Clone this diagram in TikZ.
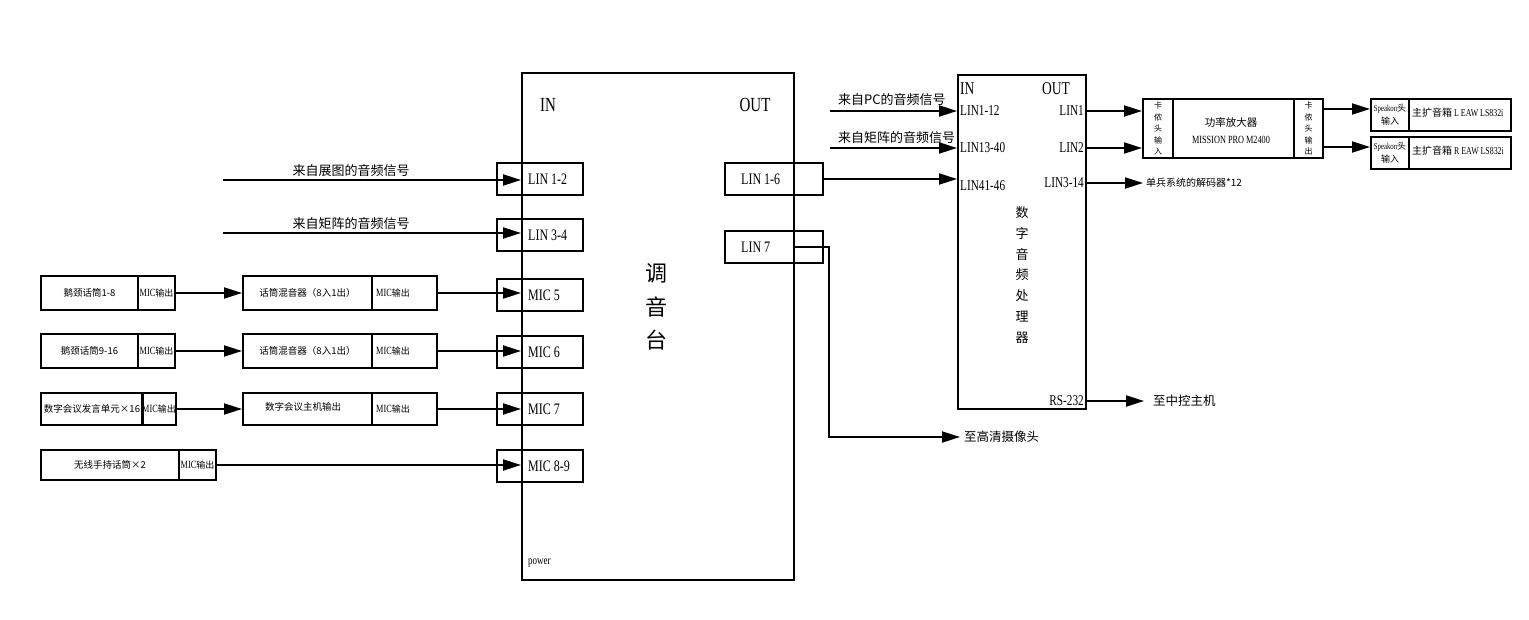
\documentclass[tikz,border=0pt]{standalone}
\usepackage{fontspec}
\setmainfont[FakeStretch=0.75]{Liberation Serif}
\newfontfamily\cjk{Noto Sans CJK SC}
\newcommand\zh[1]{{\cjk #1}}
\newcommand\micout{{\fontsize{11}{11}\selectfont MIC}{\cjk\fontsize{9}{9}\selectfont 输出}}
\usetikzlibrary{arrows.meta}
\begin{document}
\begin{tikzpicture}[x=1pt,y=-1pt,
  bx/.style={draw, line width=2pt, inner sep=0pt},
  arr/.style={line width=2pt, -{Triangle[length=18pt,width=11pt]}},
  t/.style={inner sep=0pt},
  port/.style={t, anchor=west, font=\fontsize{16}{16}\selectfont},
  zhs/.style={font=\cjk\fontsize{#1}{#1}\selectfont},
  las/.style={font=\fontsize{#1}{#1}\selectfont},
]
\useasboundingbox (0,0) rectangle (1529,620);

% ---------- mixer ----------
\node[bx, minimum width=272, minimum height=507] (mixer) at (658,326.5) {};
\node[t, las=20] (min) at (548,105) {IN};
\node[t, las=20] (mout) at (755,105) {OUT};
\node[t, anchor=west, las=12] (pw) at (528,563) {power};
\node[t, align=center, font=\cjk\fontsize{22}{33.5}\selectfont] (mt) at (656,307) {调\\音\\台};

\foreach \n/\y/\txt in {p1/179/LIN 1-2, p2/235/LIN 3-4, p3/295/MIC 5, p4/352/MIC 6, p5/409/MIC 7, p6/466/MIC 8-9} {
  \node[bx, minimum width=86, minimum height=32] (\n) at (540,\y) {};
  \node[port] (\n t) at (528,\y) {\txt};
}
\node[bx, minimum width=98, minimum height=32] (o1) at (774,179) {};
\node[port] (o1t) at (741,179) {LIN 1-6};
\node[bx, minimum width=98, minimum height=32] (o2) at (774,247) {};
\node[port] (o2t) at (741,247) {LIN 7};

% ---------- top inputs ----------
\coordinate (s1) at (223,180);
\coordinate (s2) at (223,233);
\draw[arr] (s1) -- (s1 -| mixer.west);
\draw[arr] (s2) -- (s2 -| mixer.west);
\node[t, zhs=13] (s1t) at (351,171) {来自展图的音频信号};
\node[t, zhs=13] (s2t) at (351,224) {来自矩阵的音频信号};

% ---------- left rows ----------
\node[bx, minimum width=97, minimum height=34, zhs=9.5] (a1) at (89.5,293) {鹅颈话筒1-8};
\node[bx, minimum width=37, minimum height=34] (a1r) at (156.5,293) {\micout};
\node[bx, minimum width=129, minimum height=34, zhs=9.5] (b1) at (307.5,293) {话筒混音器（8入1出）};
\node[bx, minimum width=65, minimum height=34] (b1r) at (404.5,293) {};
\node[t, anchor=west] (b1rt) at (376,293) {\micout};

\node[bx, minimum width=97, minimum height=34, zhs=9.5] (a2) at (89.5,351) {鹅颈话筒9-16};
\node[bx, minimum width=37, minimum height=34] (a2r) at (156.5,351) {\micout};
\node[bx, minimum width=129, minimum height=34, zhs=9.5] (b2) at (307.5,351) {话筒混音器（8入1出）};
\node[bx, minimum width=65, minimum height=34] (b2r) at (404.5,351) {};
\node[t, anchor=west] (b2rt) at (376,351) {\micout};

\node[bx, minimum width=102, minimum height=32, zhs=9.5] (a3) at (92,409) {数字会议发言单元×16};
\node[bx, minimum width=32, minimum height=32] (a3r) at (159,409) {\micout};
\node[bx, minimum width=129, minimum height=32] (b3) at (307.5,409) {};
\node[t, zhs=9.5] (b3t) at (303,406.5) {数字会议主机输出};
\node[bx, minimum width=65, minimum height=32] (b3r) at (404.5,409) {};
\node[t, anchor=west] (b3rt) at (376,409) {\micout};

\node[bx, minimum width=138, minimum height=30, zhs=9.5] (a4) at (110,465) {无线手持话筒×2};
\node[bx, minimum width=37, minimum height=30] (a4r) at (197.5,465) {\micout};

\draw[arr] (a1r.east) -- (b1.west);
\draw[arr] (a2r.east) -- (b2.west);
\draw[arr] (a3r.east) -- (b3.west);
\draw[arr] (b1r.east) -- (b1r.east -| mixer.west);
\draw[arr] (b2r.east) -- (b2r.east -| mixer.west);
\draw[arr] (b3r.east) -- (b3r.east -| mixer.west);
\draw[arr] (a4r.east) -- (a4r.east -| mixer.west);

% ---------- DSP ----------
\node[bx, minimum width=128, minimum height=334] (dsp) at (1022,242) {};
\node[t, anchor=west, las=18] (din) at (960,89) {IN};
\node[t, anchor=west, las=18] (dout) at (1042,89) {OUT};
\node[t, anchor=west, las=15] (l1) at (960,111) {LIN1-12};
\node[t, anchor=west, las=15] (l2) at (960,148) {LIN13-40};
\node[t, anchor=west, las=15] (l3) at (960,186) {LIN41-46};
\node[t, anchor=east, las=15] (r1) at (1084,111) {LIN1};
\node[t, anchor=east, las=15] (r2) at (1084,148) {LIN2};
\node[t, anchor=east, las=15] (r3) at (1084,183) {LIN3-14};
\node[t, anchor=east, las=15] (rs) at (1084,401) {RS-232};
\node[t, align=center, font=\cjk\fontsize{13}{20.7}\selectfont] (dt) at (1022,275) {数\\字\\音\\频\\处\\理\\器};

\coordinate (d1) at (830,111);
\coordinate (d2) at (830,148);
\draw[arr] (d1) -- (d1 -| dsp.west);
\draw[arr] (d2) -- (d2 -| dsp.west);
\node[t, anchor=west, zhs=13] (d1t) at (838,100) {来自PC的音频信号};
\node[t, anchor=west, zhs=13] (d2t) at (838,138) {来自矩阵的音频信号};

\draw[arr] (o1.east) -- (o1.east -| dsp.west);

\coordinate (k) at (829,437);
\node[t, anchor=west, zhs=12.5] (cam) at (964,437) {至高清摄像头};
\draw[arr] (o2.center -| mixer.east) -- (o2.center -| k) -- (k) -- ([xshift=-4pt]cam.west);

\node[t, anchor=west, zhs=10] (dec) at (1146,183) {单兵系统的解码器*12};
\draw[arr] (dsp.east |- r3) -- ([xshift=-3pt]dec.west);
\node[t, anchor=west, zhs=12.5] (ctrl) at (1153,401) {至中控主机};
\draw[arr] (dsp.east |- rs) -- ([xshift=-9pt]ctrl.west);

% ---------- amplifier ----------
\node[bx, minimum width=30, minimum height=59, align=center, font=\cjk\fontsize{8}{11.5}\selectfont] (ampL) at (1158,128.5) {卡\\侬\\头\\输\\入};
\node[bx, minimum width=121, minimum height=59] (ampM) at (1233.5,128.5) {};
\node[t, zhs=10.5] (ampt1) at (1231,122) {功率放大器};
\node[t, las=11] (ampt2) at (1231,140) {MISSION PRO M2400};
\node[bx, minimum width=29, minimum height=59, align=center, font=\cjk\fontsize{8}{11.5}\selectfont] (ampR) at (1308.5,128.5) {卡\\侬\\头\\输\\出};

\draw[arr] (dsp.east |- r1) -- (ampL.west |- r1);
\draw[arr] (dsp.east |- r2) -- (ampL.west |- r2);

% ---------- speakers ----------
\node[bx, minimum width=38, minimum height=32, align=center, font=\fontsize{9}{13}\selectfont] (sp1l) at (1390,115) {Speakon\zh{头}\\\zh{输入}};
\node[bx, minimum width=102, minimum height=32] (sp1r) at (1460,115) {};
\node[t, anchor=west, las=10.5] (sp1t) at (1412,113) {\zh{\fontsize{10}{10}\selectfont 主扩音箱} L EAW LS832i};
\node[bx, minimum width=38, minimum height=32, align=center, font=\fontsize{9}{13}\selectfont] (sp2l) at (1390,153) {Speakon\zh{头}\\\zh{输入}};
\node[bx, minimum width=102, minimum height=32] (sp2r) at (1460,153) {};
\node[t, anchor=west, las=10.5] (sp2t) at (1412,151) {\zh{\fontsize{10}{10}\selectfont 主扩音箱} R EAW LS832i};

\draw[arr] ([yshift=19.5pt]ampR.east) coordinate (e1) -- (e1 -| sp1l.west);
\draw[arr] ([yshift=-18.5pt]ampR.east) coordinate (e2) -- (e2 -| sp2l.west);
\end{tikzpicture}
\end{document}
